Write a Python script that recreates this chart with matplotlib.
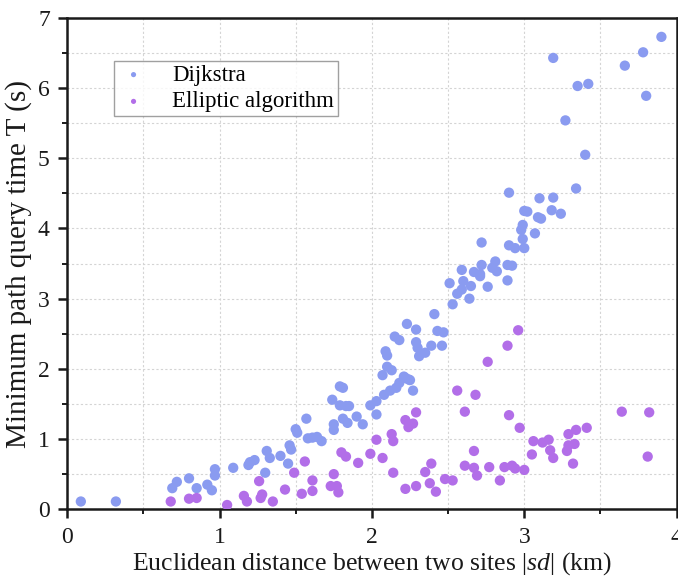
import matplotlib
matplotlib.use("Agg")
import matplotlib.pyplot as plt
from matplotlib.ticker import MultipleLocator

plt.rcParams['font.family'] = ['Liberation Serif', 'DejaVu Serif']
plt.rcParams['mathtext.fontset'] = 'custom'
plt.rcParams['mathtext.rm'] = 'Liberation Serif'
plt.rcParams['mathtext.it'] = 'Liberation Serif:italic'

# Dijkstra query times
dijkstra_x = [0.09, 0.32, 0.69, 0.72, 0.80, 0.85, 0.92, 0.95, 0.97, 0.97,
              1.09, 1.19, 1.20, 1.23, 1.30, 1.31, 1.33, 1.40, 1.45, 1.46,
              1.47, 1.50, 1.51, 1.57, 1.58, 1.61, 1.64, 1.67, 1.74, 1.75,
              1.75, 1.79, 1.81, 1.79, 1.83, 1.85, 1.81, 1.84, 1.90, 1.94,
              1.99, 2.03, 2.03, 2.07, 2.09, 2.10, 2.10, 2.13, 2.08, 2.12,
              2.15, 2.18, 2.16, 2.18, 2.21, 2.24, 2.22, 2.23, 2.25, 2.27,
              2.29, 2.29, 2.30, 2.31, 2.35, 2.39, 2.41, 2.43, 2.46, 2.47,
              2.51, 2.53, 2.56, 2.59, 2.59, 2.60, 2.64, 2.65, 2.67, 2.71,
              2.72, 2.72, 2.71, 2.76, 2.79, 2.81, 2.82, 2.90, 2.89, 2.89,
              2.90, 2.92, 2.94, 2.98, 2.99, 2.99, 3.00, 3.00, 3.02, 3.07,
              3.09, 3.10, 3.11, 3.19, 3.18, 3.24, 3.19, 3.27, 3.34, 3.35,
              3.40, 3.42, 3.66, 3.78, 3.80, 3.90]
dijkstra_t = [0.11, 0.11, 0.30, 0.39, 0.44, 0.30, 0.35, 0.27, 0.57, 0.48,
              0.59, 0.63, 0.67, 0.70, 0.52, 0.83, 0.73, 0.76, 0.65, 0.91,
              0.85, 1.14, 1.09, 1.29, 1.01, 1.02, 1.03, 0.97, 1.56, 1.21,
              1.13, 1.75, 1.73, 1.48, 1.47, 1.47, 1.29, 1.23, 1.32, 1.21,
              1.48, 1.54, 1.35, 1.91, 2.25, 2.19, 2.03, 1.98, 1.63, 1.69,
              2.46, 2.41, 1.73, 1.80, 1.89, 1.85, 1.87, 2.64, 1.84, 1.69,
              2.56, 2.38, 2.30, 2.18, 2.23, 2.33, 2.78, 2.54, 2.33, 2.52,
              3.22, 2.92, 3.07, 3.13, 3.41, 3.25, 3.00, 3.18, 3.38, 3.35,
              3.80, 3.48, 3.32, 3.17, 3.44, 3.53, 3.39, 4.51, 3.48, 3.26,
              3.76, 3.47, 3.72, 3.98, 4.05, 3.85, 4.25, 3.72, 4.24, 3.93,
              4.16, 4.43, 4.14, 4.44, 4.26, 4.21, 6.43, 5.54, 4.57, 6.03,
              5.05, 6.06, 6.32, 6.51, 5.89, 6.73]

# Elliptic algorithm query times
elliptic_x = [0.68, 0.80, 0.85, 1.05, 1.16, 1.18, 1.26, 1.27, 1.28, 1.35,
              1.43, 1.49, 1.54, 1.56, 1.61, 1.61, 1.73, 1.75, 1.77, 1.78,
              1.80, 1.83, 1.91, 1.99, 2.03, 2.07, 2.13, 2.14, 2.14, 2.22,
              2.22, 2.24, 2.27, 2.29, 2.29, 2.35, 2.39, 2.38, 2.42, 2.48,
              2.53, 2.56, 2.61, 2.61, 2.67, 2.67, 2.68, 2.69, 2.76, 2.77,
              2.84, 2.87, 2.89, 2.90, 2.92, 2.94, 2.96, 2.97, 3.00, 3.05,
              3.06, 3.12, 3.16, 3.17, 3.19, 3.28, 3.29, 3.29, 3.32, 3.33,
              3.34, 3.41, 3.64, 3.81, 3.82]
elliptic_t = [0.11, 0.15, 0.16, 0.06, 0.19, 0.11, 0.40, 0.16, 0.21, 0.11,
              0.28, 0.52, 0.22, 0.68, 0.26, 0.41, 0.33, 0.50, 0.33, 0.24,
              0.81, 0.75, 0.66, 0.79, 0.99, 0.73, 1.07, 0.97, 0.52, 1.27,
              0.29, 1.17, 1.22, 1.38, 0.33, 0.53, 0.65, 0.37, 0.25, 0.43,
              0.41, 1.69, 1.39, 0.62, 0.59, 0.83, 1.63, 0.48, 2.10, 0.60,
              0.41, 0.60, 2.33, 1.34, 0.62, 0.58, 2.55, 1.16, 0.56, 0.78,
              0.97, 0.95, 0.99, 0.84, 0.73, 0.83, 1.07, 0.91, 0.65, 0.93,
              1.13, 1.16, 1.39, 0.75, 1.38]

blue = '#8a9bf0'
purple = '#b26ee8'

fig = plt.figure(figsize=(6.78, 5.78), dpi=100)
ax = fig.add_axes([0.099, 0.119, 0.899, 0.850])

ax.scatter(dijkstra_x, dijkstra_t, s=55, color=blue, edgecolors='none',
           label='Dijkstra', zorder=3)
ax.scatter(elliptic_x, elliptic_t, s=55, color=purple, edgecolors='none',
           label='Elliptic algorithm', zorder=3)

ax.set_xlim(0, 4)
ax.set_ylim(0, 7)
ax.xaxis.set_major_locator(MultipleLocator(1))
ax.xaxis.set_minor_locator(MultipleLocator(0.5))
ax.yaxis.set_major_locator(MultipleLocator(1))
ax.yaxis.set_minor_locator(MultipleLocator(0.5))

ax.grid(True, which='both', linestyle=(0, (2, 2)), color='#d4d4d4',
        linewidth=0.8, zorder=0)

for side in ax.spines.values():
    side.set_linewidth(1.8)
    side.set_color('#1a1a1a')

ax.tick_params(which='major', direction='out', length=6.5, width=1.8,
               labelsize=17, pad=6, colors='#1a1a1a')
ax.tick_params(which='minor', direction='out', length=3.5, width=1.4,
               colors='#1a1a1a')

ax.set_xlabel(r'Euclidean distance between two sites |$\mathit{sd}$| (km)',
              fontsize=18.5, labelpad=2, color='#1a1a1a')
ax.set_ylabel('Minimum path query time T (s)', fontsize=21, labelpad=4,
              color='#1a1a1a')

leg = ax.legend(loc='upper left', bbox_to_anchor=(0.077, 0.912),
                borderaxespad=0, fontsize=16.5, markerscale=0.5,
                frameon=True, fancybox=False, borderpad=0.15,
                labelspacing=0.25, handletextpad=1.0, handlelength=1.4,
                edgecolor='#888888')
leg.get_frame().set_linewidth(1.0)

fig.savefig('out.png', dpi=100)
